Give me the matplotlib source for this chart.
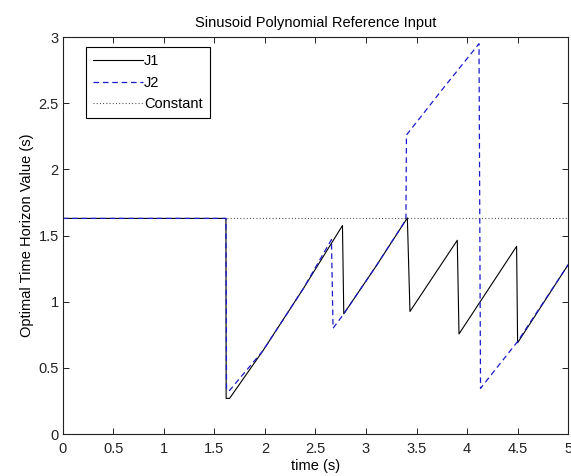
import matplotlib
matplotlib.use("Agg")
import matplotlib.pyplot as plt
import numpy as np

plt.rcParams['font.family'] = ['Liberation Sans', 'DejaVu Sans']

# values
t_j1 = [0, 1.614, 1.616, 1.65, 1.98, 2.38, 2.767, 2.78, 3.10, 3.409, 3.435,
        3.903, 3.92, 4.49, 4.50, 5.0]
v_j1 = [1.63, 1.63, 0.27, 0.27, 0.63, 1.10, 1.576, 0.909, 1.27, 1.634, 0.927,
        1.465, 0.757, 1.419, 0.69, 1.28]

t_j2 = [0, 1.614, 1.62, 1.65, 1.98, 2.38, 2.658, 2.674, 2.78, 3.10, 3.395,
        3.40, 3.75, 4.118, 4.133, 4.50, 5.0]
v_j2 = [1.63, 1.63, 0.33, 0.33, 0.63, 1.10, 1.47, 0.80, 0.909, 1.27, 1.62,
        2.26, 2.60, 2.95, 0.346, 0.70, 1.28]

t_const = [1.62, 5.0]
v_const = [1.63, 1.63]

xticks = [0, 0.5, 1, 1.5, 2, 2.5, 3, 3.5, 4, 4.5, 5]
xticklabels = ['0', '0.5', '1', '1.5', '2', '2.5', '3', '3.5', '4', '4.5', '5']
yticks = [0, 0.5, 1, 1.5, 2, 2.5, 3]
yticklabels = ['0', '0.5', '1', '1.5', '2', '2.5', '3']

fig = plt.figure(figsize=(5.71, 4.76), dpi=100)
ax = fig.add_axes([0.110, 0.088, 0.885, 0.834])

ax.plot(t_j1, v_j1, color='black', linewidth=0.8, label='J1')
ax.plot(t_j2, v_j2, color='#1a1acc', linewidth=0.9, dashes=(4.5, 3), label='J2')
ax.plot(t_const, v_const, color='#333333', linewidth=0.8, dashes=(0.8, 2.1),
        label='Constant')

ax.set_xlim(0, 5)
ax.set_ylim(0, 3)
ax.set_xticks(xticks)
ax.set_xticklabels(xticklabels)
ax.set_yticks(yticks)
ax.set_yticklabels(yticklabels)
ax.tick_params(direction='in', length=4, width=0.7, top=True, right=True,
               labelsize=10.5, colors='#222222', pad=3)
ax.tick_params(axis='x', pad=6)
for s in ax.spines.values():
    s.set_linewidth(0.8)
    s.set_color('#222222')

ax.set_title('Sinusoid Polynomial Reference Input', fontsize=10.5, pad=7)
ax.set_xlabel('time (s)', fontsize=10.5, labelpad=2)
ax.set_ylabel('Optimal Time Horizon Value (s)', fontsize=10.5, labelpad=3)

leg = ax.legend(loc='upper left', bbox_to_anchor=(0.0455, 0.975),
                borderaxespad=0, fancybox=False, fontsize=10.5,
                handlelength=3.4, handletextpad=0.1, labelspacing=0.5,
                borderpad=0.5, framealpha=1)
leg.get_frame().set_edgecolor('black')
leg.get_frame().set_linewidth(0.8)

fig.savefig('out.png', dpi=100)
